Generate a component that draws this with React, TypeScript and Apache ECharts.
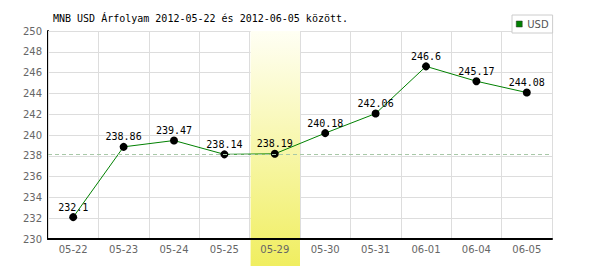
import React, { useEffect, useRef } from "react";
import * as echarts from "echarts";

const categories = ["05-22", "05-23", "05-24", "05-25", "05-29", "05-30", "05-31", "06-01", "06-04", "06-05"];
const usdValues = [232.1, 238.86, 239.47, 238.14, 238.19, 240.18, 242.06, 246.6, 245.17, 244.08];
const highlightCategory = "05-29";
const referenceValue = 238.19;
const titleText = "MNB USD Árfolyam 2012-05-22 és 2012-06-05 között.";
const yMin = 230;
const yMax = 250;
const yInterval = 2;

export default function App() {
  const ref = useRef<HTMLDivElement>(null);
  useEffect(() => {
    if (!ref.current) return;
    const chart = echarts.init(ref.current, undefined, { renderer: "svg" });
    chart.setOption({
      animation: false,
      backgroundColor: "#fff",
      title: {
        text: titleText,
        left: 53,
        top: 13,
        padding: 0,
        textStyle: { fontFamily: "DejaVu Sans Mono", fontSize: 10, fontWeight: "normal", color: "#000" },
      },
      legend: {
        data: ["USD"],
        left: 512,
        top: 15,
        padding: [4, 4, 4, 4],
        icon: "rect",
        itemWidth: 6,
        itemHeight: 6,
        backgroundColor: "#fff",
        borderColor: "#ccc",
        borderWidth: 1,
        itemStyle: { color: "#008000", borderColor: "#333", borderWidth: 0.5 },
        textStyle: { fontFamily: "DejaVu Sans", fontSize: 10, color: "#555" },
      },
      grid: { left: 48, right: 48, top: 31, bottom: 31, containLabel: false },
      xAxis: {
        type: "category",
        data: categories,
        boundaryGap: true,
        z: 3,
        axisLine: { show: true, lineStyle: { color: "#000", width: 2 } },
        axisTick: { show: false },
        axisLabel: { color: "#666", fontFamily: "DejaVu Sans", fontSize: 10, margin: 5 },
        splitLine: { show: true, lineStyle: { color: "#ddd", width: 1 } },
      },
      yAxis: {
        type: "value",
        min: yMin,
        max: yMax,
        interval: yInterval,
        axisLine: { show: true, lineStyle: { color: "#000", width: 2 } },
        axisTick: { show: false },
        axisLabel: { color: "#666", fontFamily: "DejaVu Sans", fontSize: 10, margin: 6 },
        splitLine: { show: true, lineStyle: { color: "#ddd", width: 1 } },
      },
      series: [
        {
          name: "USD",
          type: "line",
          data: usdValues,
          symbol: "circle",
          symbolSize: 8,
          itemStyle: { color: "#000" },
          lineStyle: { color: "#008000", width: 1 },
          label: {
            show: true,
            position: "top",
            distance: 1,
            color: "#000",
            fontFamily: "DejaVu Sans Mono",
            fontSize: 10,
          },
          markLine: {
            silent: true,
            symbol: "none",
            label: { show: false },
            lineStyle: { color: "#a8c8a8", type: [4, 3], width: 1 },
            data: [{ yAxis: referenceValue }],
          },
        },
      ],
    });
    const idx = categories.indexOf(highlightCategory);
    const cx = chart.convertToPixel({ xAxisIndex: 0 }, categories[idx]) as number;
    const cx2 = chart.convertToPixel({ xAxisIndex: 0 }, categories[idx + 1]) as number;
    const w = cx2 - cx;
    const yTop = chart.convertToPixel({ yAxisIndex: 0 }, yMax) as number;
    const yBot = chart.convertToPixel({ yAxisIndex: 0 }, yMin) as number;
    const h = yBot - yTop + 27;
    chart.setOption({
      graphic: [
        {
          type: "rect",
          z: 1,
          shape: { x: cx - w / 2 + 1, y: yTop, width: w - 1, height: h },
          style: {
            fill: new echarts.graphic.LinearGradient(0, 0, 0, 1, [
              { offset: 0, color: "#fffff4" },
              { offset: 1, color: "#f0ee60" },
            ]),
          },
        },
      ],
    });
    return () => chart.dispose();
  }, []);
  return <div ref={ref} style={{ position: "absolute", left: 0, top: 0, width: 600, height: 270 }} />;
}
